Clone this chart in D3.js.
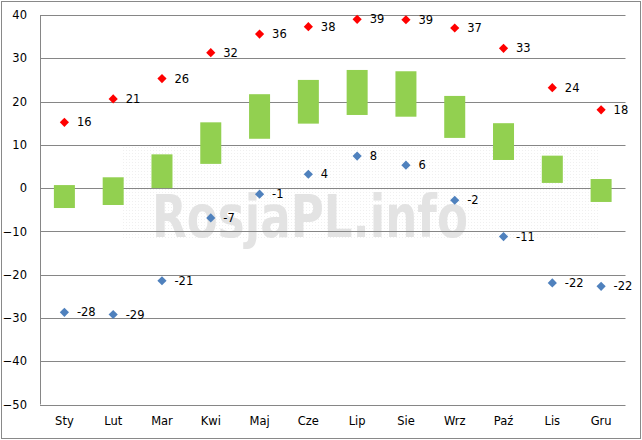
<!DOCTYPE html>
<html>
<head>
<meta charset="utf-8">
<script src="https://cdn.jsdelivr.net/npm/d3@7"></script>
<style>
  html, body { margin: 0; padding: 0; background: #fff; }
  svg { display: block; }
  text { font-family: Tahoma, "DejaVu Sans", sans-serif; }
</style>
</head>
<body>
<svg id="chart" width="642" height="440"></svg>
<script>
const months = ["Sty","Lut","Mar","Kwi","Maj","Cze","Lip","Sie","Wrz","Paź","Lis","Gru"];
const rangeLow  = [-4.6, -3.9, 0.0, 5.6, 11.4, 14.9, 16.9, 16.5, 11.6, 6.5, 1.2, -3.2];
const rangeHigh = [0.7, 2.5, 7.8, 15.2, 21.7, 25.0, 27.3, 27.0, 21.3, 15.0, 7.5, 2.1];
const maxTemps  = [15.2, 20.6, 25.3, 31.3, 35.6, 37.3, 39.0, 38.9, 37.0, 32.3, 23.2, 18.1];
const maxLabels = ["16","21","26","32","36","38","39","39","37","33","24","18"];
const minTemps  = [-28.7, -29.2, -21.4, -6.9, -1.4, 3.2, 7.4, 5.3, -2.8, -11.2, -21.9, -22.7];
const minLabels = ["-28","-29","-21","-7","-1","4","8","6","-2","-11","-22","-22"];
const yTicks    = [-50, -40, -30, -20, -10, 0, 10, 20, 30, 40];

const svg = d3.select("#chart");
const W = 642, H = 440;
const plot = { left: 40, right: 625.5, top: 15, bottom: 404.5 };

svg.append("rect").attr("x", 1.5).attr("y", 1.5).attr("width", W - 3).attr("height", H - 3)
  .attr("fill", "#fff").attr("stroke", "#898989").attr("stroke-width", 1);

const x = d3.scaleBand().domain(months).range([plot.left, plot.right]).paddingInner(0).paddingOuter(0);
const y = d3.scaleLinear().domain([-50, 40]).range([plot.bottom, plot.top]);

// watermark
const pat = svg.append("defs").append("pattern").attr("id", "dots")
  .attr("width", 3).attr("height", 3).attr("patternUnits", "userSpaceOnUse");
pat.append("rect").attr("width", 1).attr("height", 1).attr("fill", "#f0f0f0");
svg.append("rect").attr("x", 122).attr("y", 145).attr("width", 478).attr("height", 95).attr("fill", "url(#dots)");
svg.append("text").attr("x", 152).attr("y", 237).text("RosjaPL.info")
  .attr("font-family", "'DejaVu Sans', sans-serif").attr("font-weight", "bold")
  .attr("font-size", 58).attr("fill", "#e3e3e3")
  .attr("textLength", 316).attr("lengthAdjust", "spacingAndGlyphs");

// gridlines
svg.append("g").selectAll("line").data(yTicks).join("line")
  .attr("x1", plot.left).attr("x2", plot.right)
  .attr("y1", d => Math.round(y(d)) + 0.5).attr("y2", d => Math.round(y(d)) + 0.5)
  .attr("stroke", "#868686").attr("stroke-width", 1);

// left axis line
svg.append("line").attr("x1", plot.left + 0.5).attr("x2", plot.left + 0.5)
  .attr("y1", plot.top).attr("y2", plot.bottom)
  .attr("stroke", "#868686");

// y tick labels
const yAxis = d3.axisLeft(y).tickValues(yTicks).tickSize(0).tickPadding(13).tickFormat(d3.format("d"));
const ga = svg.append("g").attr("transform", `translate(${plot.left},0)`).call(yAxis);
ga.select(".domain").remove();
ga.selectAll("text").attr("font-size", 11.5).attr("fill", "#000")
  .attr("font-family", "Tahoma, 'DejaVu Sans', sans-serif");

// x axis labels
const xAxis = d3.axisBottom(x).tickSize(0).tickPadding(12);
const gx = svg.append("g").attr("transform", `translate(0,${plot.bottom})`).call(xAxis);
gx.select(".domain").remove();
gx.selectAll("text").attr("font-size", 11.5).attr("fill", "#000")
  .attr("font-family", "Tahoma, 'DejaVu Sans', sans-serif");

// floating bars
const bw = 21;
svg.append("g").selectAll("rect").data(months).join("rect")
  .attr("x", d => x(d) + x.bandwidth() / 2 - bw / 2)
  .attr("width", bw)
  .attr("y", (d, i) => y(rangeHigh[i]))
  .attr("height", (d, i) => y(rangeLow[i]) - y(rangeHigh[i]))
  .attr("fill", "#92d050");

const diamond = (cx, cy, r) => `M${cx},${cy - r}L${cx + r},${cy}L${cx},${cy + r}L${cx - r},${cy}Z`;

function drawSeries(vals, labels, color) {
  const g = svg.append("g");
  g.selectAll("path").data(vals).join("path")
    .attr("d", (v, i) => diamond(x(months[i]) + x.bandwidth() / 2, y(v), 4.6))
    .attr("fill", color);
  g.selectAll("text").data(vals).join("text")
    .attr("x", (v, i) => x(months[i]) + x.bandwidth() / 2 + 12.5)
    .attr("y", v => y(v))
    .attr("dy", "0.36em")
    .attr("font-size", 11.5)
    .attr("fill", "#000")
    .text((v, i) => labels[i]);
}
drawSeries(maxTemps, maxLabels, "#ff0000");
drawSeries(minTemps, minLabels, "#4f81bd");
</script>
</body>
</html>
